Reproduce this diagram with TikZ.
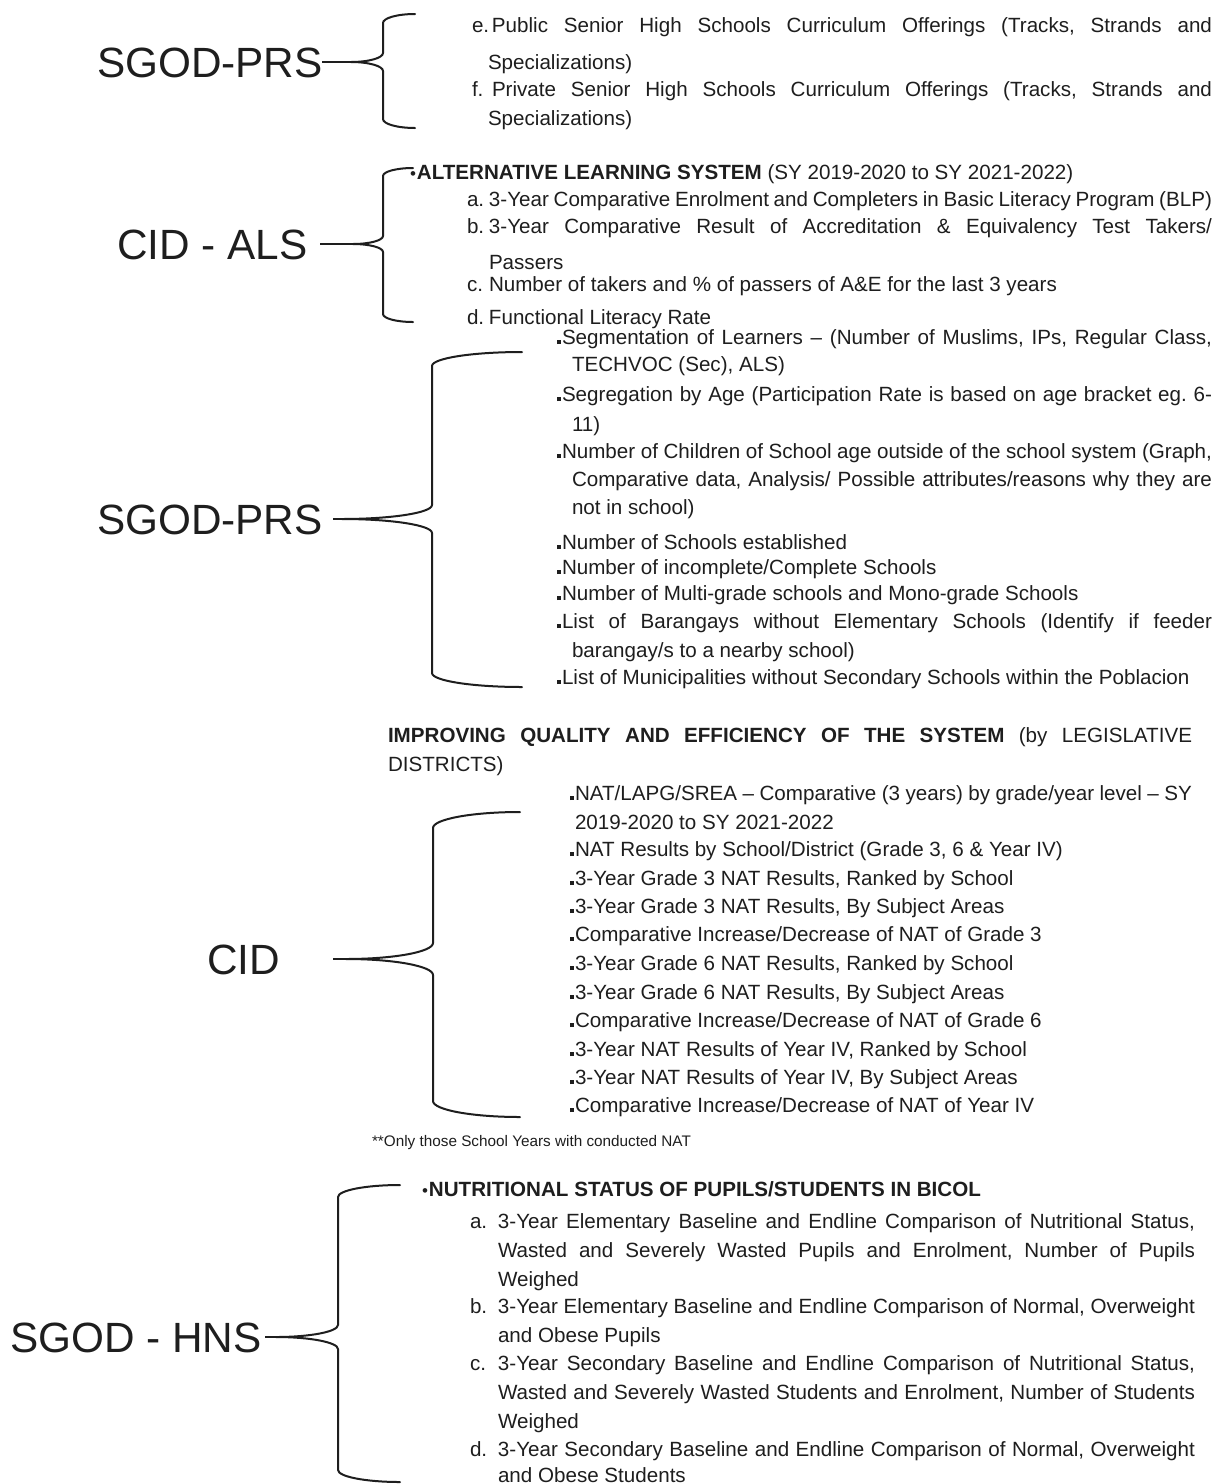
\documentclass[tikz,border=0pt]{standalone}
\usepackage{fontspec}
\setmainfont{Liberation Sans}
\definecolor{ink}{RGB}{30,30,30}
\newcommand\sqb{\rule{3.8pt}{3.8pt}\hspace{1.2pt}}
\newcommand\rdb{{\fontsize{17}{17}\selectfont •}\hspace{1pt}}
\newcommand\lab[2]{\makebox[#1pt][l]{#2}}
\newcommand\jl[2]{\makebox[#1pt][s]{#2}}
\newcommand\bracedraw[8]{%
 \coordinate (#1) at (#4,#6);
 \draw[brace] (#2,#5) .. controls ({#2-0.5523*(#2-#3)},#5) and (#3,{#5+0.4477*#8}) .. (#3,{#5+#8})
  -- (#3,{#6-#8}) .. controls (#3,{#6-0.4477*#8}) and ({#4+0.5523*(#3-#4)},#6) .. (#1)
  .. controls ({#4+0.5523*(#3-#4)},#6) and (#3,{#6+0.4477*#8}) .. (#3,{#6+#8})
  -- (#3,{#7-#8}) .. controls (#3,{#7-0.4477*#8}) and ({#2-0.5523*(#2-#3)},#7) .. (#2,#7);
}
\tikzset{
 txt/.style={anchor=base west, inner sep=0pt, outer sep=0pt, text=ink,
   font=\fontsize{20.6}{24}\selectfont\frenchspacing},
 big/.style={anchor=base west, inner sep=0pt, outer sep=0pt, text=ink,
   font=\fontsize{42.3}{48}\selectfont},
 note/.style={anchor=base west, inner sep=0pt, outer sep=0pt, text=ink,
   font=\fontsize{15.3}{18}\selectfont},
 brace/.style={draw=ink, line width=2pt, line cap=round},
 link/.style={draw=ink, line width=2pt},
}
\begin{document}
\begin{tikzpicture}[x=1pt,y=-1pt]
\fill[white] (0,0) rectangle (1226,1484);
\useasboundingbox (0,0) rectangle (1226,1484);

% ---------- Section 1 ----------
\node[big] (L1) at (97,77) {SGOD-PRS};
\node[txt] (s1a) at (472,32) {\lab{20}{e.}\jl{720}{Public Senior High Schools Curriculum Offerings (Tracks, Strands and}};
\node[txt] (s1b) at (488,69) {Specializations)};
\node[txt] (s1c) at (472,96) {\lab{20}{f.}\jl{720}{Private Senior High Schools Curriculum Offerings (Tracks, Strands and}};
\node[txt] (s1d) at (488,125) {Specializations)};
\bracedraw{t1}{415}{383}{351}{14}{62}{128}{9}
\coordinate (c1) at (322,62);
\draw[link] (c1) -- (t1);

% ---------- Section 2 ----------
\node[big] (L2) at (117,259) {CID - ALS};
\node[txt] (s2h) at (410,179) {\rdb\textbf{ALTERNATIVE LEARNING SYSTEM} (SY 2019-2020 to SY 2021-2022)};
\node[txt] (s2a) at (467,206) {\lab{22}{a.}\jl{723}{3-Year Comparative Enrolment and Completers in Basic Literacy Program (BLP)}};
\node[txt] (s2b) at (467,233) {\lab{22}{b.}\jl{723}{3-Year Comparative Result of Accreditation \& Equivalency Test Takers/}};
\node[txt] (s2c) at (489,269) {Passers};
\node[txt] (s2d) at (467,291) {\lab{22}{c.}Number of takers and \% of passers of A\&E for the last 3 years};
\node[txt] (s2e) at (467,324) {\lab{22}{d.}Functional Literacy Rate};
\bracedraw{t2}{413}{383}{353}{168}{244}{322}{8}
\coordinate (c2) at (320,244);
\draw[link] (c2) -- (t2);

% ---------- Section 3 ----------
\node[big] (L3) at (97,534) {SGOD-PRS};
\node[txt] (s3a) at (557,344) {\jl{655}{\sqb Segmentation of Learners – (Number of Muslims, IPs, Regular Class,}};
\node[txt] (s3b) at (572,371) {TECHVOC (Sec), ALS)};
\node[txt] (s3c) at (557,401) {\jl{655}{\sqb Segregation by Age (Participation Rate is based on age bracket eg. 6-}};
\node[txt] (s3d) at (572,431) {11)};
\node[txt] (s3e) at (557,458) {\jl{655}{\sqb Number of Children of School age outside of the school system (Graph,}};
\node[txt] (s3f) at (572,486) {\jl{640}{Comparative data, Analysis/ Possible attributes/reasons why they are}};
\node[txt] (s3g) at (572,514) {not in school)};
\node[txt] (s3h) at (557,549) {\sqb Number of Schools established};
\node[txt] (s3i) at (557,574) {\sqb Number of incomplete/Complete Schools};
\node[txt] (s3j) at (557,600) {\sqb Number of Multi-grade schools and Mono-grade Schools};
\node[txt] (s3k) at (557,628) {\jl{655}{\sqb List of Barangays without Elementary Schools (Identify if feeder}};
\node[txt] (s3l) at (572,657) {barangay/s to a nearby school)};
\node[txt] (s3m) at (557,684) {\sqb List of Municipalities without Secondary Schools within the Poblacion};
\bracedraw{t3}{522}{432}{342}{352}{519}{687}{14}
\coordinate (c3) at (333,519);
\draw[link] (c3) -- (t3);

% ---------- Section 4 ----------
\node[big] (L4) at (207,974) {CID};
\node[txt] (s4h) at (388,742) {\jl{804}{\textbf{IMPROVING QUALITY AND EFFICIENCY OF THE SYSTEM} (by LEGISLATIVE}};
\node[txt] (s4i) at (388,771) {DISTRICTS)};
\node[txt] (s4a) at (570,800) {\jl{622}{\sqb NAT/LAPG/SREA – Comparative (3 years) by grade/year level – SY}};
\node[txt] (s4b) at (575,829) {2019-2020 to SY 2021-2022};
\node[txt] (s4c) at (570,856) {\sqb NAT Results by School/District (Grade 3, 6 \& Year IV)};
\node[txt] (s4d) at (570,885) {\sqb 3-Year Grade 3 NAT Results, Ranked by School};
\node[txt] (s4e) at (570,913) {\sqb 3-Year Grade 3 NAT Results, By Subject Areas};
\node[txt] (s4f) at (570,941) {\sqb Comparative Increase/Decrease of NAT of Grade 3};
\node[txt] (s4g) at (570,970) {\sqb 3-Year Grade 6 NAT Results, Ranked by School};
\node[txt] (s4j) at (570,999) {\sqb 3-Year Grade 6 NAT Results, By Subject Areas};
\node[txt] (s4k) at (570,1027) {\sqb Comparative Increase/Decrease of NAT of Grade 6};
\node[txt] (s4l) at (570,1056) {\sqb 3-Year NAT Results of Year IV, Ranked by School};
\node[txt] (s4m) at (570,1084) {\sqb 3-Year NAT Results of Year IV, By Subject Areas};
\node[txt] (s4n) at (570,1112) {\sqb Comparative Increase/Decrease of NAT of Year IV};
\node[note] (fn) at (372,1146) {**Only those School Years with conducted NAT};
\bracedraw{t4}{520}{433}{346}{812}{959}{1117}{16}
\coordinate (c4) at (333,959);
\draw[link] (c4) -- (t4);

% ---------- Section 5 ----------
\node[big] (L5) at (10,1352) {SGOD - HNS};
\node[txt] (s5h) at (422,1196) {\rdb\textbf{NUTRITIONAL STATUS OF PUPILS/STUDENTS IN BICOL}};
\node[txt] (s5a) at (470,1228) {\lab{28}{a.}\jl{697}{3-Year Elementary Baseline and Endline Comparison of Nutritional Status,}};
\node[txt] (s5b) at (498,1257) {\jl{697}{Wasted and Severely Wasted Pupils and Enrolment, Number of Pupils}};
\node[txt] (s5c) at (498,1286) {Weighed};
\node[txt] (s5d) at (470,1313) {\lab{28}{b.}\jl{697}{3-Year Elementary Baseline and Endline Comparison of Normal, Overweight}};
\node[txt] (s5e) at (498,1342) {and Obese Pupils};
\node[txt] (s5f) at (470,1370) {\lab{28}{c.}\jl{697}{3-Year Secondary Baseline and Endline Comparison of Nutritional Status,}};
\node[txt] (s5g) at (498,1399) {\jl{697}{Wasted and Severely Wasted Students and Enrolment, Number of Students}};
\node[txt] (s5i) at (498,1428) {Weighed};
\node[txt] (s5j) at (470,1456) {\lab{28}{d.}\jl{697}{3-Year Secondary Baseline and Endline Comparison of Normal, Overweight}};
\node[txt] (s5k) at (498,1482) {and Obese Students};
\bracedraw{t5}{400}{338}{276}{1185}{1337}{1482}{12}
\coordinate (c5) at (265,1337);
\draw[link] (c5) -- (t5);
\end{tikzpicture}
\end{document}
